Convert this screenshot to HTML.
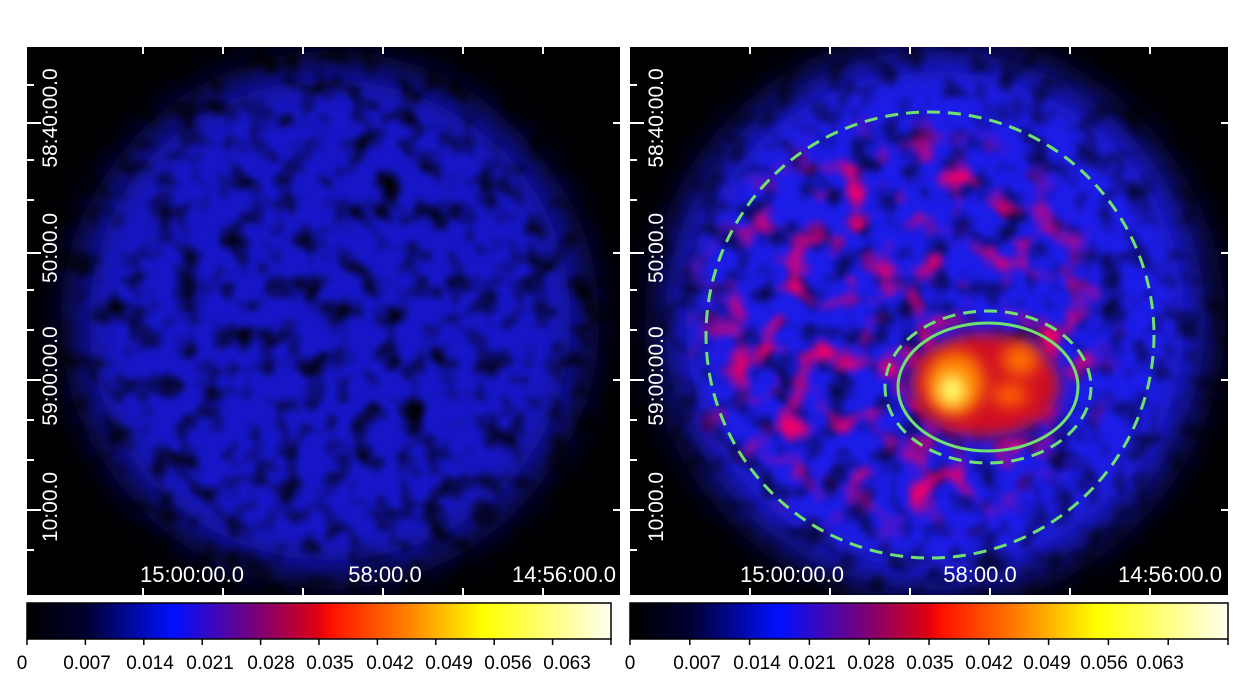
<!DOCTYPE html>
<html><head><meta charset="utf-8"><style>
body{margin:0;background:#fff;width:1250px;height:700px;overflow:hidden}
svg{display:block}
</style></head><body>
<svg width="1250" height="700" viewBox="0 0 1250 700" xmlns="http://www.w3.org/2000/svg" font-family="Liberation Sans, sans-serif">
<defs>
<linearGradient id="cb" x1="0" x2="1">
<stop offset="0" stop-color="#000"/><stop offset="0.1" stop-color="#000030"/>
<stop offset="0.25" stop-color="#0010ff"/><stop offset="0.4" stop-color="#800070"/>
<stop offset="0.5" stop-color="#e00010"/><stop offset="0.52" stop-color="#ff1000"/>
<stop offset="0.65" stop-color="#ff8000"/><stop offset="0.78" stop-color="#ffff00"/>
<stop offset="1" stop-color="#fffff0"/></linearGradient>
<radialGradient id="fade" cx="0.5" cy="0.5" r="0.5">
<stop offset="0" stop-color="#fff"/><stop offset="0.75" stop-color="#fff"/><stop offset="1" stop-color="#000"/></radialGradient>
<mask id="mr" maskUnits="userSpaceOnUse" x="630" y="47" width="598" height="548">
<ellipse cx="900" cy="330" rx="230" ry="220" fill="url(#fade)"/></mask>
<filter id="b20" x="-20%" y="-20%" width="140%" height="140%"><feGaussianBlur stdDeviation="22"/></filter>
<filter id="b8" x="-50%" y="-50%" width="200%" height="200%"><feGaussianBlur stdDeviation="8"/></filter>
<filter id="noise1" filterUnits="userSpaceOnUse" x="0" y="0" width="1250" height="700">
<feTurbulence type="fractalNoise" baseFrequency="0.04" numOctaves="2" seed="3" result="t"/>
<feColorMatrix in="t" type="matrix" values="0 0 0 0 0  0 0 0 0 0  0 0 0 0 0  -2.6 0 0 0 1.4" result="a"/>
<feGaussianBlur in="a" stdDeviation="3"/>
</filter>
<filter id="noise2" filterUnits="userSpaceOnUse" x="0" y="0" width="1250" height="700">
<feTurbulence type="fractalNoise" baseFrequency="0.032" numOctaves="2" seed="7" result="t"/>
<feColorMatrix in="t" type="matrix" values="0 0 0 0 0.8  0 0 0 0 0  0 0 0 0 0.15  3.5 0 0 0 -1.75" result="a"/>
<feGaussianBlur in="a" stdDeviation="3"/>
</filter>
<clipPath id="cl"><rect x="27" y="47" width="593" height="548"/></clipPath>
<clipPath id="cr"><rect x="630" y="47" width="598" height="548"/></clipPath>
</defs>
<!-- left panel -->
<rect x="27" y="47" width="593" height="548" fill="#000"/>
<g clip-path="url(#cl)">
<circle cx="330" cy="320" r="255" fill="#1818c8" filter="url(#b20)"/>
<rect x="27" y="47" width="593" height="548" fill="#000" filter="url(#noise1)"/>
</g>
<!-- right panel -->
<rect x="630" y="47" width="598" height="548" fill="#000"/>
<g clip-path="url(#cr)">
<circle cx="935" cy="320" r="270" fill="#1c1ce8" filter="url(#b20)"/>
<rect x="630" y="47" width="598" height="548" fill="#000" opacity="0.75" filter="url(#noise1)"/>
<g mask="url(#mr)"><rect x="630" y="47" width="598" height="548" fill="#fff" filter="url(#noise2)"/></g>
<ellipse cx="985" cy="385" rx="75" ry="52" fill="#d01020" filter="url(#b8)"/>
<ellipse cx="955" cy="383" rx="30" ry="32" fill="#ff8000" filter="url(#b8)"/>
<ellipse cx="952" cy="390" rx="14" ry="16" fill="#ffff70" filter="url(#b8)"/>
<ellipse cx="1020" cy="360" rx="18" ry="16" fill="#ff7000" filter="url(#b8)"/>
<ellipse cx="1010" cy="395" rx="18" ry="12" fill="#ff6000" filter="url(#b8)"/>
<ellipse cx="930" cy="335" rx="224" ry="223" fill="none" stroke="#70e070" stroke-width="3" stroke-dasharray="13 8"/>
<ellipse cx="988" cy="387" rx="103" ry="76" fill="none" stroke="#70e070" stroke-width="3" stroke-dasharray="13 8"/>
<ellipse cx="988" cy="387" rx="90" ry="64" fill="none" stroke="#70e070" stroke-width="3"/>
</g>
<!-- ticks -->
<g stroke="#fff" stroke-width="2">
<path d="M27 123h14M27 253h14M27 380h14M27 510h14M27 85h7M27 160h7M27 200h7M27 290h7M27 330h7M27 420h7M27 460h7M27 550h7"/>
<path d="M630 123h14M630 253h14M630 380h14M630 510h14M630 85h7M630 160h7M630 200h7M630 290h7M630 330h7M630 420h7M630 460h7M630 550h7"/>
<path d="M613 123h7M613 253h7M613 380h7M613 510h7M1221 123h7M1221 253h7M1221 380h7M1221 510h7"/>
<path d="M143 595v-7M223 595v-7M303 595v-7M383 595v-7M463 595v-7M543 595v-7M750 595v-7M830 595v-7M910 595v-7M990 595v-7M1070 595v-7M1150 595v-7"/>
<path d="M143 47v7M223 47v7M303 47v7M383 47v7M463 47v7M543 47v7M750 47v7M830 47v7M910 47v7M990 47v7M1070 47v7M1150 47v7"/>
</g>
<g fill="#fff" font-size="21">
<text transform="translate(57,118) rotate(-90)" text-anchor="middle">58:40:00.0</text>
<text transform="translate(57,248) rotate(-90)" text-anchor="middle">50:00.0</text>
<text transform="translate(57,376) rotate(-90)" text-anchor="middle">59:00:00.0</text>
<text transform="translate(57,507) rotate(-90)" text-anchor="middle">10:00.0</text>
<text transform="translate(663,118) rotate(-90)" text-anchor="middle">58:40:00.0</text>
<text transform="translate(663,248) rotate(-90)" text-anchor="middle">50:00.0</text>
<text transform="translate(663,376) rotate(-90)" text-anchor="middle">59:00:00.0</text>
<text transform="translate(663,507) rotate(-90)" text-anchor="middle">10:00.0</text>
</g>
<g fill="#fff" font-size="22" clip-path="url(#cl)">
<text x="192" y="582" text-anchor="middle">15:00:00.0</text>
<text x="385" y="582" text-anchor="middle">58:00.0</text>
<text x="512" y="582">14:56:00.0</text>
</g>
<g fill="#fff" font-size="22" clip-path="url(#cr)">
<text x="792" y="582" text-anchor="middle">15:00:00.0</text>
<text x="980" y="582" text-anchor="middle">58:00.0</text>
<text x="1118" y="582">14:56:00.0</text>
</g>
<!-- colorbars -->
<rect x="27" y="603" width="584" height="36" fill="url(#cb)" stroke="#000" stroke-width="1.5"/>
<rect x="630" y="603" width="598" height="36" fill="url(#cb)" stroke="#000" stroke-width="1.5"/>
<g stroke="#000" stroke-width="1.5">
<path d="M27 639v6M85.4 639v6M143.8 639v6M202.2 639v6M260.6 639v6M319 639v6M377.4 639v6M435.8 639v6M494.2 639v6M552.6 639v6M611 639v6"/>
<path d="M630 639v6M689.8 639v6M749.6 639v6M809.4 639v6M869.2 639v6M929 639v6M988.8 639v6M1048.6 639v6M1108.4 639v6M1168.2 639v6M1228 639v6"/>
</g>
<g fill="#000" font-size="19" text-anchor="middle">
<text x="22" y="669">0</text><text x="87" y="669">0.007</text><text x="150" y="669">0.014</text><text x="210" y="669">0.021</text><text x="271" y="669">0.028</text><text x="330" y="669">0.035</text><text x="390" y="669">0.042</text><text x="449" y="669">0.049</text><text x="508" y="669">0.056</text><text x="567" y="669">0.063</text>
<text x="630" y="669">0</text><text x="697" y="669">0.007</text><text x="757" y="669">0.014</text><text x="812" y="669">0.021</text><text x="871" y="669">0.028</text><text x="930" y="669">0.035</text><text x="989" y="669">0.042</text><text x="1047" y="669">0.049</text><text x="1104" y="669">0.056</text><text x="1160" y="669">0.063</text>
</g>
</svg>
</body></html>
